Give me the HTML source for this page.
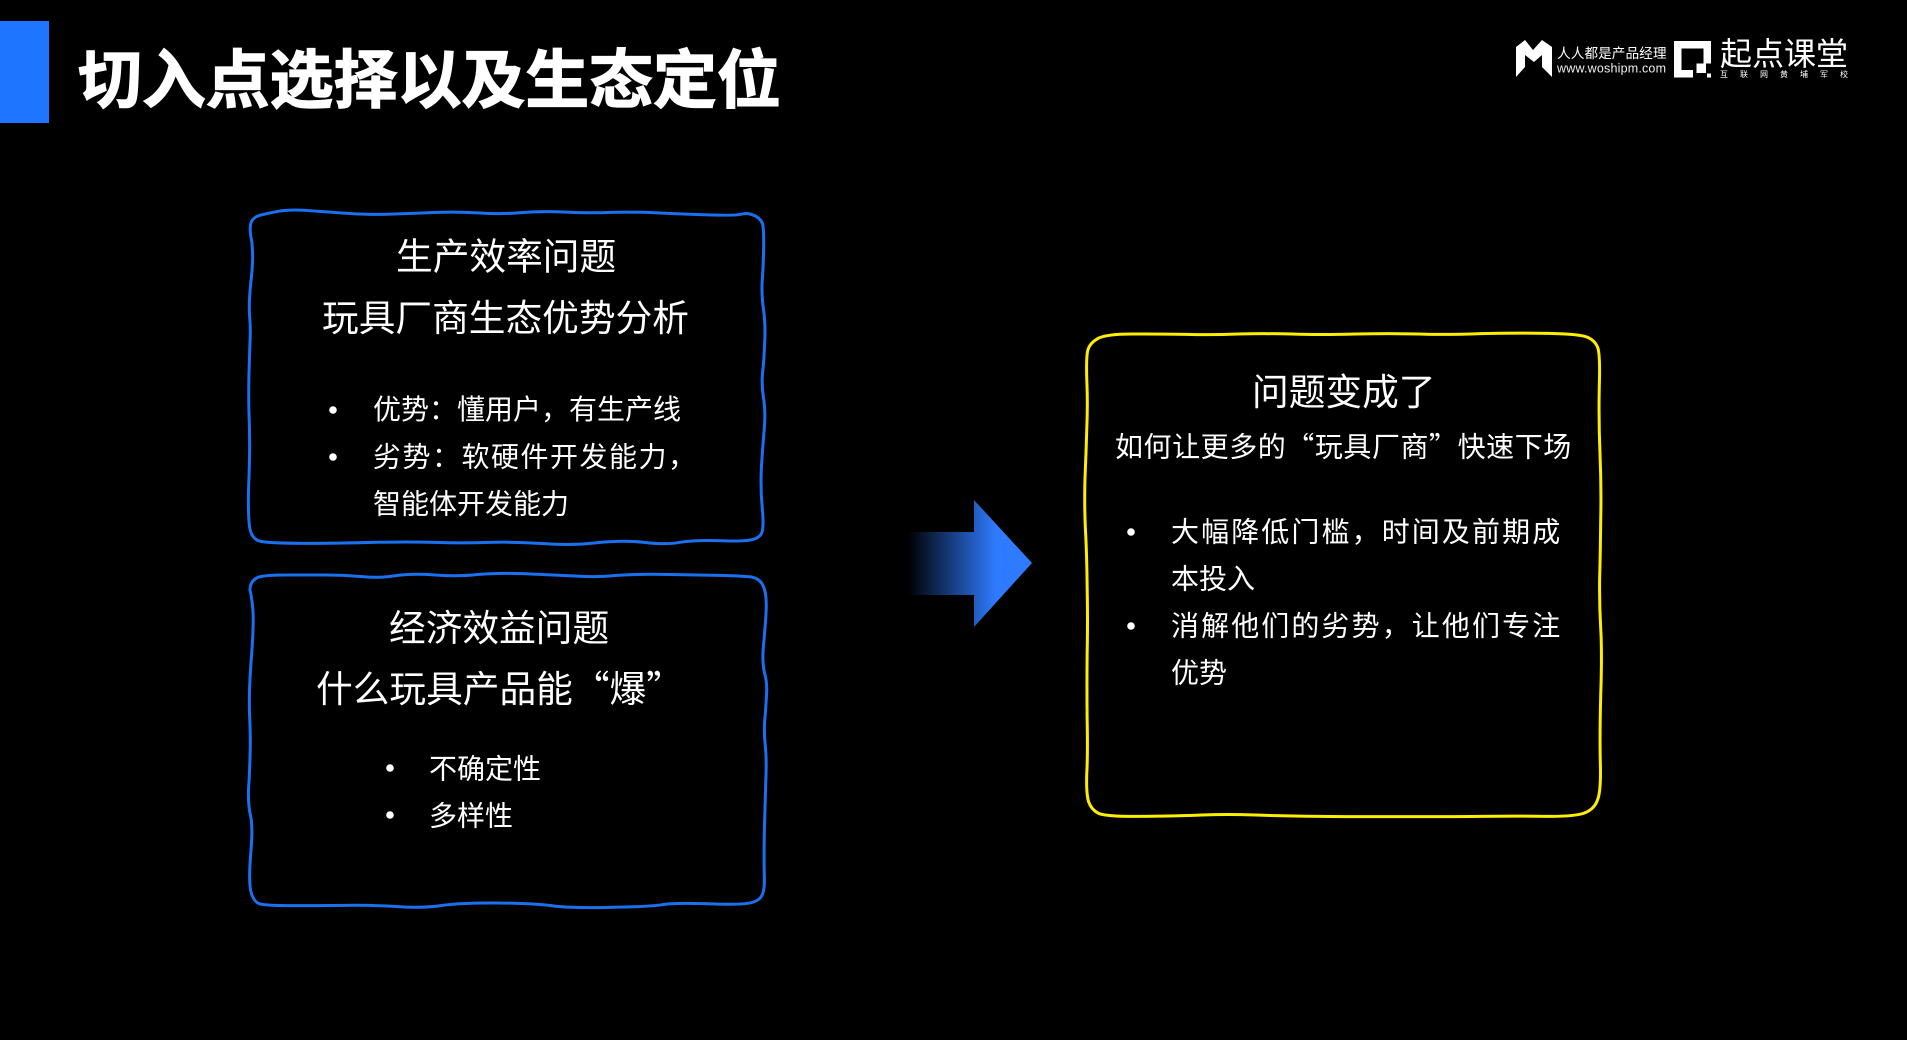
<!DOCTYPE html>
<html lang="zh">
<head>
<meta charset="utf-8">
<title>切入点选择以及生态定位</title>
<style>
html,body{margin:0;padding:0;background:#000;width:1907px;height:1040px;overflow:hidden}
svg{display:block}
text{font-family:"Noto Sans CJK SC","Liberation Sans",sans-serif;fill:#fff}
.h{font-size:36.7px}
.b{font-size:28px}
.box{fill:none;stroke-width:3px;stroke-linejoin:round;vector-effect:non-scaling-stroke}
</style>
</head>
<body>
<svg width="1907" height="1040" viewBox="0 0 1907 1040" xmlns="http://www.w3.org/2000/svg">
<defs>
<linearGradient id="ag" gradientUnits="userSpaceOnUse" x1="908" y1="0" x2="996" y2="0">
<stop offset="0" stop-color="#000"/>
<stop offset="1" stop-color="#2f7bff"/>
</linearGradient>
</defs>
<rect width="1907" height="1040" fill="#000"/>
<rect x="0" y="21" width="49" height="102" fill="#1e75ff"/>
<text x="78" y="102.500" font-size="63.900" font-weight="700" stroke="#fff" stroke-width="1.2">切入点选择以及生态定位</text>

<!-- logo -->
<polygon points="1516,47 1525,40 1533,50 1542,40 1552,47 1552,77 1542,67 1542,55 1534,62 1525,55 1525,67 1516,77" fill="#fff"/>
<text x="1557" y="58" font-size="13.7">人人都是产品经理</text>
<text x="1557" y="72.500" font-size="12.500" textLength="109" style="fill:#eee;font-family:'Liberation Sans',sans-serif">www.woshipm.com</text>
<path d="M1674 41H1711V63.5H1703.5V48.5H1681.5V70H1693V77.5H1674Z" fill="#fff"/>
<rect x="1696.5" y="63.5" width="9.5" height="9.5" fill="#fff"/>
<rect x="1707" y="73.5" width="4" height="4" fill="#fff"/>
<text x="1720" y="65" font-size="32">起点课堂</text>
<text x="1720" y="77" font-size="8" letter-spacing="12">互联网黄埔军校</text>

<!-- box 1 -->
<g transform="translate(230,195) scale(0.35714,0.33333)">
<path class="box" stroke="#1a70ee" vector-effect="non-scaling-stroke" d="M58 122 Q55 105 58 86 Q62 68 83 61 Q105 55 135 49 Q165 43 212 46 Q260 50 330 55 Q400 60 460 57 Q520 55 580 52 Q640 50 700 54 Q760 58 815 53 Q870 48 935 51 Q1000 55 1065 52 Q1130 50 1205 54 Q1280 58 1350 60 Q1420 62 1435 57 Q1450 52 1471 63 Q1492 75 1493 97 Q1495 120 1494 170 Q1493 220 1490 260 Q1488 300 1494 345 Q1500 390 1497 445 Q1495 500 1491 535 Q1488 570 1494 610 Q1500 650 1496 700 Q1492 750 1488 815 Q1485 880 1490 935 Q1495 990 1490 1010 Q1485 1030 1457 1035 Q1430 1040 1365 1037 Q1300 1035 1260 1042 Q1220 1050 1160 1042 Q1100 1035 1030 1043 Q960 1052 880 1046 Q800 1040 725 1042 Q650 1045 575 1042 Q500 1040 400 1042 Q300 1045 210 1045 Q120 1045 90 1040 Q60 1035 55 997 Q50 960 52 880 Q55 800 55 750 Q55 700 53 650 Q52 600 53 540 Q55 480 56 440 Q58 400 55 365 Q52 330 58 265 Q65 200 63 170 Q62 140 58 122Z"/>
</g>
<text class="h" x="396" y="269.500">生产效率问题</text>
<text class="h" x="322" y="331">玩具厂商生态优势分析</text>
<circle cx="333" cy="410" r="3.8" fill="#fff"/>
<text class="b" x="373" y="419">优势：懂用户，有生产线</text>
<circle cx="333" cy="457" r="3.8" fill="#fff"/>
<text class="b" x="373" y="466.500" letter-spacing="1.5">劣势：软硬件开发能力，</text>
<text class="b" x="373" y="513.500">智能体开发能力</text>

<!-- box 2 -->
<g transform="translate(230,560) scale(0.35714,0.33333)">
<path class="box" stroke="#1a70ee" vector-effect="non-scaling-stroke" d="M56 92 Q55 90 58 75 Q62 60 78 52 Q95 45 157 45 Q220 45 270 45 Q320 45 370 50 Q420 55 465 47 Q510 40 575 45 Q640 50 690 44 Q740 38 820 41 Q900 45 965 48 Q1030 52 1075 47 Q1120 42 1210 43 Q1300 45 1370 46 Q1440 48 1460 51 Q1480 55 1489 70 Q1498 85 1500 107 Q1503 130 1500 175 Q1497 220 1493 265 Q1490 310 1497 340 Q1505 370 1502 410 Q1500 450 1497 485 Q1495 520 1499 560 Q1503 600 1500 670 Q1498 740 1496 820 Q1495 900 1496 945 Q1498 990 1489 1007 Q1480 1025 1450 1030 Q1420 1035 1330 1031 Q1240 1028 1210 1034 Q1180 1040 1065 1042 Q950 1045 900 1037 Q850 1030 750 1029 Q650 1028 595 1036 Q540 1045 470 1040 Q400 1035 325 1036 Q250 1037 175 1037 Q100 1037 82 1031 Q65 1025 58 992 Q52 960 58 880 Q65 800 57 765 Q50 730 52 685 Q55 640 56 590 Q58 540 55 470 Q52 400 60 290 Q68 180 63 137 Q58 95 56 92Z"/>
</g>
<text class="h" x="389" y="641">经济效益问题</text>
<text class="h" x="316" y="702">什么玩具产品能“爆”</text>
<circle cx="390" cy="768" r="3.8" fill="#fff"/>
<text class="b" x="429" y="778.500">不确定性</text>
<circle cx="390" cy="815" r="3.8" fill="#fff"/>
<text class="b" x="429" y="825.500">多样性</text>

<!-- arrow -->
<polygon points="908,532 974,532 974,500 1032,563 974,627 974,595 908,595" fill="url(#ag)"/>

<!-- box 3 -->
<g transform="translate(1070,320) scale(0.35714,0.33333)">
<path class="box" stroke="#ffee00" vector-effect="non-scaling-stroke" d="M47 180 Q45 110 50 90 Q55 70 77 56 Q100 42 175 42 Q250 42 325 43 Q400 45 470 42 Q540 40 620 42 Q700 45 800 42 Q900 40 975 42 Q1050 45 1150 41 Q1250 38 1340 40 Q1430 42 1450 52 Q1470 62 1477 81 Q1485 100 1482 200 Q1480 300 1484 400 Q1488 500 1486 600 Q1485 700 1483 775 Q1482 850 1486 925 Q1490 1000 1486 1125 Q1483 1250 1485 1330 Q1487 1410 1478 1437 Q1470 1465 1445 1477 Q1420 1490 1335 1489 Q1250 1488 1150 1489 Q1050 1490 925 1490 Q800 1490 700 1489 Q600 1488 520 1485 Q440 1482 370 1485 Q300 1488 200 1489 Q100 1490 80 1480 Q60 1470 52 1445 Q45 1420 47 1360 Q50 1300 48 1200 Q47 1100 48 1000 Q50 900 48 800 Q47 700 43 625 Q40 550 42 475 Q45 400 47 325 Q50 250 47 180Z"/>
</g>
<text class="h" x="1252" y="405">问题变成了</text>
<text class="b" x="1115" y="456.500" letter-spacing="0.55">如何让更多的“玩具厂商”快速下场</text>
<circle cx="1131" cy="532" r="3.8" fill="#fff"/>
<text class="b" x="1171" y="541.500" letter-spacing="2.1">大幅降低门槛，时间及前期成</text>
<text class="b" x="1171" y="588.500">本投入</text>
<circle cx="1131" cy="626" r="3.8" fill="#fff"/>
<text class="b" x="1171" y="635.500" letter-spacing="2.1">消解他们的劣势，让他们专注</text>
<text class="b" x="1171" y="682.500">优势</text>
</svg>
</body>
</html>
